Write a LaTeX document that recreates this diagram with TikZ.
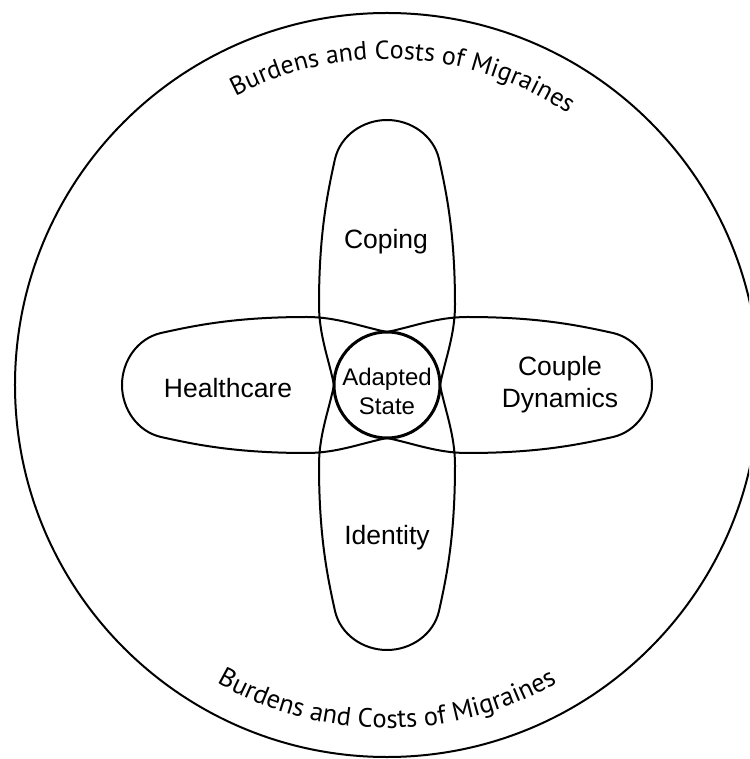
\documentclass[tikz,border=0pt]{standalone}
\usepackage{fontspec}
\setmainfont{Liberation Sans}
\newfontfamily\curvefont{PT Sans}
\usetikzlibrary{decorations.text}
\begin{document}
\begin{tikzpicture}[x=1pt,y=1pt,
  petalline/.style={line width=2pt},
  outerline/.style={line width=2pt},
  lbl/.style={font=\fontsize{26.5}{32}\selectfont, align=center, inner sep=0pt},
  centerlbl/.style={font=\fontsize{24}{29}\selectfont, align=center, inner sep=0pt},
  hub/.style={circle, draw, line width=3pt, fill=white, minimum size=106pt, inner sep=0pt}
]
\useasboundingbox (-387,-374) rectangle (362,385);
\clip (-387,-374) rectangle (362,385);
\draw[outerline] (0,0) circle[radius=372];
\foreach \r in {0,90,180,270} {
  \draw[petalline, rotate=\r] (-53,0) .. controls (-58,25) and (-68,50) .. (-68,80)
    .. controls (-68,150) and (-60,190) .. (-52,226)
    .. controls (-46.6,249.5) and (-24,265) .. (0,265)
    .. controls (24,265) and (46.6,249.5) .. (52,226)
    .. controls (60,190) and (68,150) .. (68,80)
    .. controls (68,50) and (58,25) .. (53,0);
}
\node[hub] (adapted) at (0,0) {};
\node[centerlbl] (adaptedtext) at (0,-6) {Adapted\\State};
\node[lbl] (coping) at (-1,143) {Coping};
\node[lbl] (identity) at (0,-153) {Identity};
\node[lbl] (health) at (-159,-3) {Healthcare};
\node[lbl] (couple) at (173,0) {Couple\\Dynamics};
\path[decorate, decoration={text along path, text align=center,
  text={|\curvefont\fontsize{26}{31}\selectfont|Burdens and Costs of Migraines}}]
  (147:326) arc[start angle=147, end angle=27, radius=326];
\path[decorate, decoration={text along path, text align=center,
  text={|\curvefont\fontsize{26.5}{31}\selectfont|Burdens and Costs of Migraines}}]
  (210:343) arc[start angle=210, end angle=330, radius=343];
\end{tikzpicture}
\end{document}
